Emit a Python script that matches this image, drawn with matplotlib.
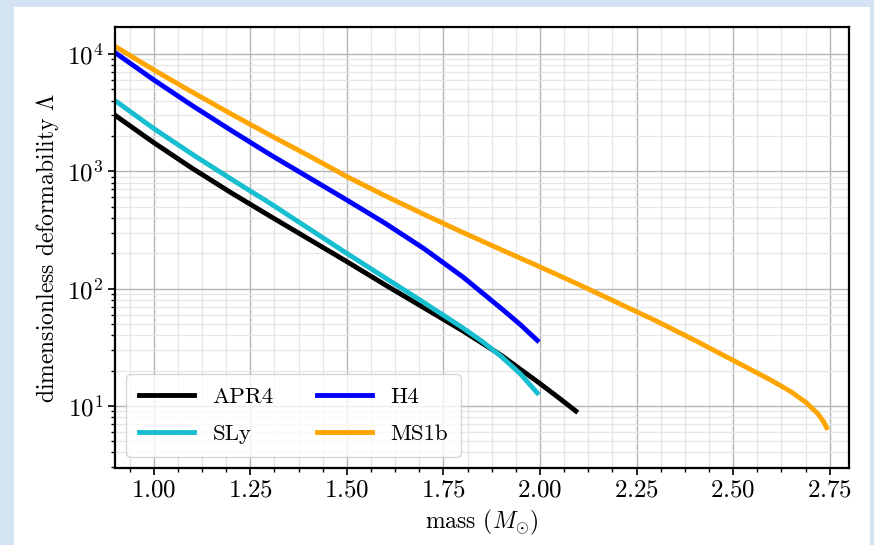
import numpy as np
import matplotlib
matplotlib.use("Agg")
import matplotlib.pyplot as plt
from matplotlib.patches import Rectangle
from matplotlib.ticker import AutoMinorLocator

plt.rcParams['font.family'] = ['cmr10', 'DejaVu Serif']
plt.rcParams['mathtext.fontset'] = 'cm'
plt.rcParams['axes.formatter.use_mathtext'] = True
plt.rcParams['font.size'] = 17

apr4_mass = [0.9, 1.0, 1.1, 1.2, 1.3, 1.4, 1.5, 1.6, 1.7, 1.8, 1.9, 2.0, 2.05, 2.093]
apr4_log = [3.478, 3.245, 3.025, 2.818, 2.62, 2.425, 2.23, 2.03, 1.835, 1.64, 1.43, 1.19, 1.065, 0.955]

sly_mass = [0.9, 1.0, 1.1, 1.2, 1.3, 1.4, 1.5, 1.6, 1.7, 1.8, 1.85, 1.9, 1.95, 1.993]
sly_log = [3.603, 3.365, 3.145, 2.935, 2.73, 2.515, 2.30, 2.09, 1.88, 1.665, 1.55, 1.42, 1.27, 1.11]

h4_mass = [0.9, 1.0, 1.1, 1.2, 1.3, 1.4, 1.5, 1.6, 1.7, 1.8, 1.9, 1.95, 1.993]
h4_log = [4.012, 3.78, 3.56, 3.35, 3.145, 2.95, 2.755, 2.555, 2.34, 2.10, 1.83, 1.69, 1.558]

ms1b_mass = [0.9, 1.0, 1.1, 1.2, 1.3, 1.4, 1.5, 1.6, 1.7, 1.8, 1.9, 2.0, 2.1, 2.2, 2.3,
             2.4, 2.5, 2.6, 2.65, 2.69, 2.72, 2.735, 2.742]
ms1b_log = [4.065, 3.865, 3.675, 3.49, 3.31, 3.135, 2.955, 2.79, 2.632, 2.479, 2.331, 2.185,
            2.035, 1.88, 1.725, 1.56, 1.388, 1.215, 1.12, 1.025, 0.93, 0.86, 0.814]

fig = plt.figure(figsize=(8.74, 5.45), dpi=100)
fig.patch.set_facecolor('#d3e3f3')
fig.patches.append(Rectangle((0.016, 0.0), 0.979, 0.987, transform=fig.transFigure,
                             facecolor='white', edgecolor='none', zorder=-10))

ax = fig.add_axes([0.1316, 0.1413, 0.8398, 0.8092])

ax.plot(apr4_mass, 10 ** np.array(apr4_log), color='black', lw=3.5, label='APR4')
ax.plot(sly_mass, 10 ** np.array(sly_log), color='#17becf', lw=3.5, label='SLy')
ax.plot(h4_mass, 10 ** np.array(h4_log), color='#0000ff', lw=3.5, label='H4')
ax.plot(ms1b_mass, 10 ** np.array(ms1b_log), color='#ffa500', lw=3.5, label='MS1b')

ax.set_yscale('log')
ax.set_xlim(0.9, 2.8)
ax.set_ylim(2.95, 1.7e4)
ax.set_xticks([1.0, 1.25, 1.5, 1.75, 2.0, 2.25, 2.5, 2.75])
ax.xaxis.set_minor_locator(AutoMinorLocator(4))

ax.grid(which='major', color='#b5b5b5', lw=1.0)
ax.grid(which='minor', color='#e6e6e6', lw=0.9)
ax.set_axisbelow(True)

for s in ax.spines.values():
    s.set_linewidth(1.6)
ax.tick_params(which='major', length=5, width=1.2, labelsize=18)
ax.tick_params(which='minor', length=3, width=1.0)

ax.set_xlabel(r'mass ($M_{\odot}$)', fontsize=17)
ax.set_ylabel(r'dimensionless deformability $\Lambda$', fontsize=17)

ax.legend(loc='lower left', ncol=2, fontsize=16.5, handlelength=2.4,
          columnspacing=1.9, labelspacing=0.75, borderpad=0.55)

fig.savefig('out.png', dpi=100, facecolor=fig.get_facecolor())
